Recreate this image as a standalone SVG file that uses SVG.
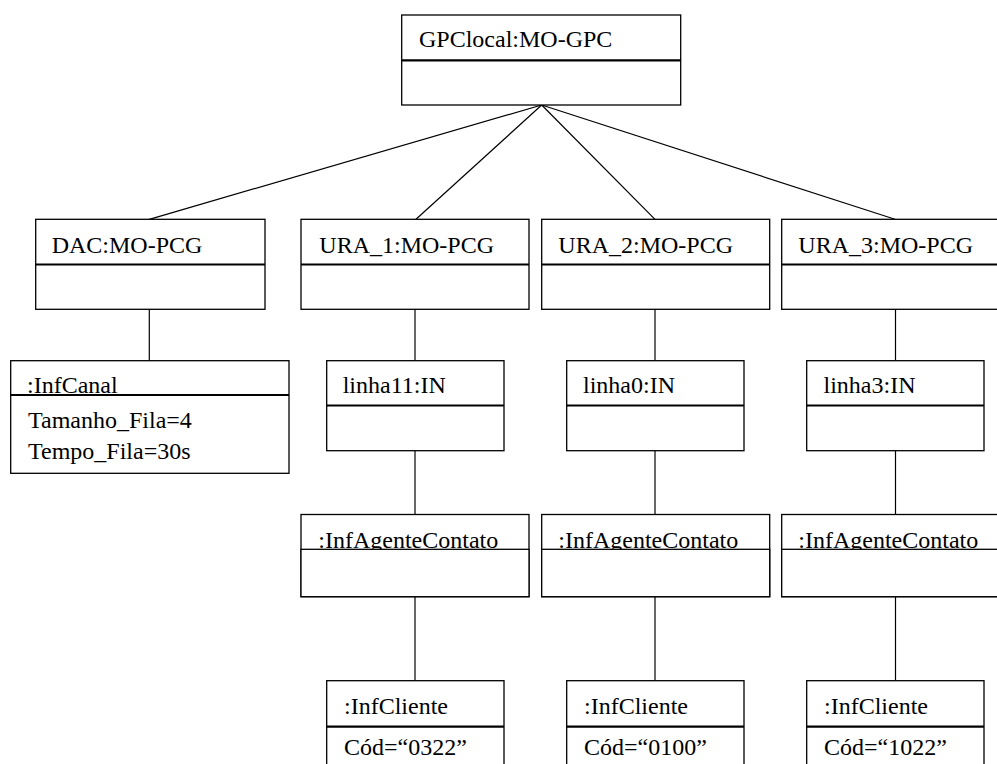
<svg xmlns="http://www.w3.org/2000/svg" width="997" height="764" viewBox="0 0 997 764" font-family="Liberation Serif, DejaVu Serif, serif" font-size="24">
  <style>
    .box { fill: #fff; stroke: #000; stroke-width: 1.3; }
    .sep { stroke: #000; stroke-width: 2.2; }
    .link { stroke: #000; stroke-width: 1.2; fill: none; }
    text { fill: #000; }
  </style>
  <rect width="997" height="764" fill="#fff"/>

  <!-- associations -->
  <g id="connectors">
    <line class="link" x1="541.7" y1="105" x2="149.3" y2="219.3"/>
    <line class="link" x1="541.7" y1="105" x2="416" y2="219.3"/>
    <line class="link" x1="541.7" y1="105" x2="655" y2="219.3"/>
    <line class="link" x1="541.7" y1="105" x2="895" y2="219.3"/>
    <line class="link" x1="149.3" y1="309.3" x2="149.3" y2="360.7"/>
    <line class="link" x1="415" y1="309.3" x2="415" y2="360.7"/>
    <line class="link" x1="655" y1="309.3" x2="655" y2="360.7"/>
    <line class="link" x1="895.5" y1="309.3" x2="895.5" y2="360.7"/>
    <line class="link" x1="415" y1="450.7" x2="415" y2="514.5"/>
    <line class="link" x1="655" y1="450.7" x2="655" y2="514.5"/>
    <line class="link" x1="895.5" y1="450.7" x2="895.5" y2="514.5"/>
    <line class="link" x1="415" y1="596.7" x2="415" y2="680.7"/>
    <line class="link" x1="655" y1="596.7" x2="655" y2="680.7"/>
    <line class="link" x1="895.5" y1="596.7" x2="895.5" y2="680.7"/>
  </g>

  <g id="gpclocal">
    <rect class="box" x="401.7" y="15" width="279" height="90"/>
    <line class="sep" x1="401.7" y1="60.3" x2="680.7" y2="60.3"/>
    <text x="419" y="47">GPClocal:MO-GPC</text>
  </g>

  <g id="dac">
    <rect class="box" x="35.7" y="219.3" width="229.3" height="90"/>
    <line class="sep" x1="35.7" y1="264.5" x2="265" y2="264.5"/>
    <text x="51.7" y="253">DAC:MO-PCG</text>
  </g>

  <g id="ura1">
    <rect class="box" x="301" y="219.3" width="228" height="90"/>
    <line class="sep" x1="301" y1="264.5" x2="529" y2="264.5"/>
    <text x="319.3" y="253">URA_1:MO-PCG</text>
  </g>

  <g id="ura2">
    <rect class="box" x="541.7" y="219.3" width="228" height="90"/>
    <line class="sep" x1="541.7" y1="264.5" x2="769.7" y2="264.5"/>
    <text x="558.3" y="253">URA_2:MO-PCG</text>
  </g>

  <g id="ura3">
    <rect class="box" x="781.7" y="219.3" width="228" height="90"/>
    <line class="sep" x1="781.7" y1="264.5" x2="1009.7" y2="264.5"/>
    <text x="798.3" y="253">URA_3:MO-PCG</text>
  </g>

  <g id="infcanal">
    <rect class="box" x="10.7" y="360.7" width="278.3" height="112.6"/>
    <text x="27" y="393">:InfCanal</text>
    <line class="sep" x1="10.7" y1="395" x2="289" y2="395"/>
    <text x="28" y="428.3">Tamanho_Fila=4</text>
    <text x="28" y="459.3">Tempo_Fila=30s</text>
  </g>

  <g id="linha11">
    <rect class="box" x="326.7" y="360.7" width="177.3" height="90"/>
    <line class="sep" x1="326.7" y1="405.5" x2="504" y2="405.5"/>
    <text x="342.7" y="393">linha11:IN</text>
  </g>

  <g id="linha0">
    <rect class="box" x="566.7" y="360.7" width="177.3" height="90"/>
    <line class="sep" x1="566.7" y1="405.5" x2="744" y2="405.5"/>
    <text x="583" y="393">linha0:IN</text>
  </g>

  <g id="linha3">
    <rect class="box" x="806.7" y="360.7" width="177.3" height="90"/>
    <line class="sep" x1="806.7" y1="405.5" x2="984" y2="405.5"/>
    <text x="823.5" y="393">linha3:IN</text>
  </g>

  <g id="agente1">
    <rect class="box" x="301" y="514.5" width="228" height="82.2"/>
    <text x="318.3" y="548">:InfAgenteContato</text>
    <rect class="box" x="301" y="549.3" width="228" height="47.4"/>
  </g>

  <g id="agente2">
    <rect class="box" x="541.7" y="514.5" width="228" height="82.2"/>
    <text x="558.3" y="548">:InfAgenteContato</text>
    <rect class="box" x="541.7" y="549.3" width="228" height="47.4"/>
  </g>

  <g id="agente3">
    <rect class="box" x="781.7" y="514.5" width="228" height="82.2"/>
    <text x="798.3" y="548">:InfAgenteContato</text>
    <rect class="box" x="781.7" y="549.3" width="228" height="47.4"/>
  </g>

  <g id="cliente1">
    <rect class="box" x="326.7" y="680.7" width="177.3" height="100"/>
    <line class="sep" x1="326.7" y1="726.7" x2="504" y2="726.7"/>
    <text x="344" y="714">:InfCliente</text>
    <text x="344" y="755">Cód=“0322”</text>
  </g>

  <g id="cliente2">
    <rect class="box" x="566.7" y="680.7" width="177.3" height="100"/>
    <line class="sep" x1="566.7" y1="726.7" x2="744" y2="726.7"/>
    <text x="584" y="714">:InfCliente</text>
    <text x="584" y="755">Cód=“0100”</text>
  </g>

  <g id="cliente3">
    <rect class="box" x="806.7" y="680.7" width="177.3" height="100"/>
    <line class="sep" x1="806.7" y1="726.7" x2="984" y2="726.7"/>
    <text x="824" y="714">:InfCliente</text>
    <text x="824" y="755">Cód=“1022”</text>
  </g>
</svg>
